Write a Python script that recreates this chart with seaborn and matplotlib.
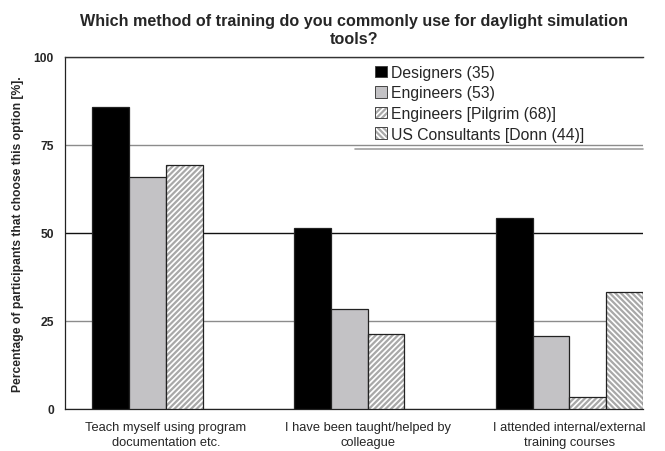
import matplotlib
matplotlib.use("Agg")
import matplotlib.pyplot as plt
import matplotlib.colors as mcolors
from matplotlib.patches import Patch
from matplotlib.ticker import FixedLocator
import numpy as np
import pandas as pd
import seaborn as sns

categories = ["Teach myself using program\ndocumentation etc.",
              "I have been taught/helped by\ncolleague",
              "I attended internal/external\ntraining courses"]
groups = ["Designers (35)", "Engineers (53)", "Engineers [Pilgrim (68)]",
          "US Consultants [Donn (44)]"]
designers = [85.7, 51.4, 54.3]
engineers = [66.0, 28.3, 20.8]
pilgrim = [69.4, 21.2, 3.3]
donn = [np.nan, np.nan, 33.1]
yticks = [0, 25, 50, 75, 100]

face = ["#000000", "#C3C2C5", "#FFFFFF", "#FFFFFF"]
hatches = ["", "", "//////", "\\\\\\\\\\\\"]
hatch_col = ["#000000", "#333333", "#A8A8A8", "#A8A8A8"]

rows = []
for g, vals in zip(groups, [designers, engineers, pilgrim, donn]):
    for c, v in zip(categories, vals):
        rows.append({"cat": c, "group": g, "value": v})
df = pd.DataFrame(rows)

sns.set_style("white")
plt.rcParams["font.family"] = ["Liberation Sans", "DejaVu Sans"]
plt.rcParams["hatch.linewidth"] = 1.6

fig = plt.figure(figsize=(6.65, 4.52), dpi=100)
ax = fig.add_axes([65/665, 1-410/452, (643-65)/665, (410-58)/452])

sns.barplot(data=df.dropna(), x="cat", y="value", hue="group", order=categories,
            hue_order=groups, palette=dict(zip(groups, face)), width=0.73,
            gap=0, dodge=True, saturation=1, edgecolor="#222222", linewidth=0.9,
            legend=False, ax=ax, zorder=3)

for cont, g in zip(ax.containers, groups):
    i = groups.index(g)
    for p in cont:
        p.set_hatch(hatches[i])
        p.set_edgecolor("#222222")
        p._hatch_color = mcolors.to_rgba(hatch_col[i])

ax.set_xlim(-0.5, 2.365)
ax.set_ylim(0, 100)
ax.yaxis.set_major_locator(FixedLocator(yticks))
ax.set_yticklabels([str(t) for t in yticks], fontsize=8.7, fontweight="bold")
ax.xaxis.set_minor_locator(FixedLocator([0.5, 1.5]))
ax.tick_params(axis="x", which="major", length=0, pad=8.5, labelsize=9.3)
for lbl in ax.get_xticklabels():
    lbl.set_linespacing(1.35)
ax.tick_params(axis="x", which="minor", length=5, width=0.8, color="#333333", direction="out")
ax.tick_params(axis="y", length=5, width=0.8, color="#333333", direction="out", pad=3)
ax.set_xlabel("")
ax.set_ylabel("Percentage of participants that choose this option [%].",
              fontsize=8.7, fontweight="bold", labelpad=7)

ax.yaxis.grid(True, zorder=0)
gl = ax.get_ygridlines()
for t, line in zip(yticks, gl):
    line.set_linewidth(1.0)
    line.set_color("#111111" if t == 50 else "#8C8C8C")
    line.set_zorder(0)

for s in ["left", "bottom"]:
    ax.spines[s].set_color("#222222")
    ax.spines[s].set_linewidth(0.9)
ax.spines["top"].set_color("#333333")
ax.spines["top"].set_linewidth(1.0)
ax.spines["right"].set_visible(False)

ax.set_title("Which method of training do you commonly use for daylight simulation\ntools?",
             fontsize=11.6, fontweight="bold", pad=10, linespacing=1.3)

handles = []
for i, g in enumerate(groups):
    h = Patch(facecolor=face[i], edgecolor="#444444", hatch=hatches[i], linewidth=0.7, label=g)
    handles.append(h)
leg = ax.legend(handles=handles, loc="upper left", bbox_to_anchor=(0.536, 0.978),
                frameon=False, fontsize=11.3, handlelength=0.75, handleheight=0.75,
                handletextpad=0.3, labelspacing=0.36, borderpad=0, borderaxespad=0)
for h, i in zip(leg.legend_handles, range(len(groups))):
    h._hatch_color = mcolors.to_rgba(hatch_col[i])
ax.plot([0.502, 1.0], [0.74, 0.74], transform=ax.transAxes, color="#A0A0A0",
        linewidth=1.2, clip_on=False, zorder=4)

fig.savefig("out.png", dpi=100)
